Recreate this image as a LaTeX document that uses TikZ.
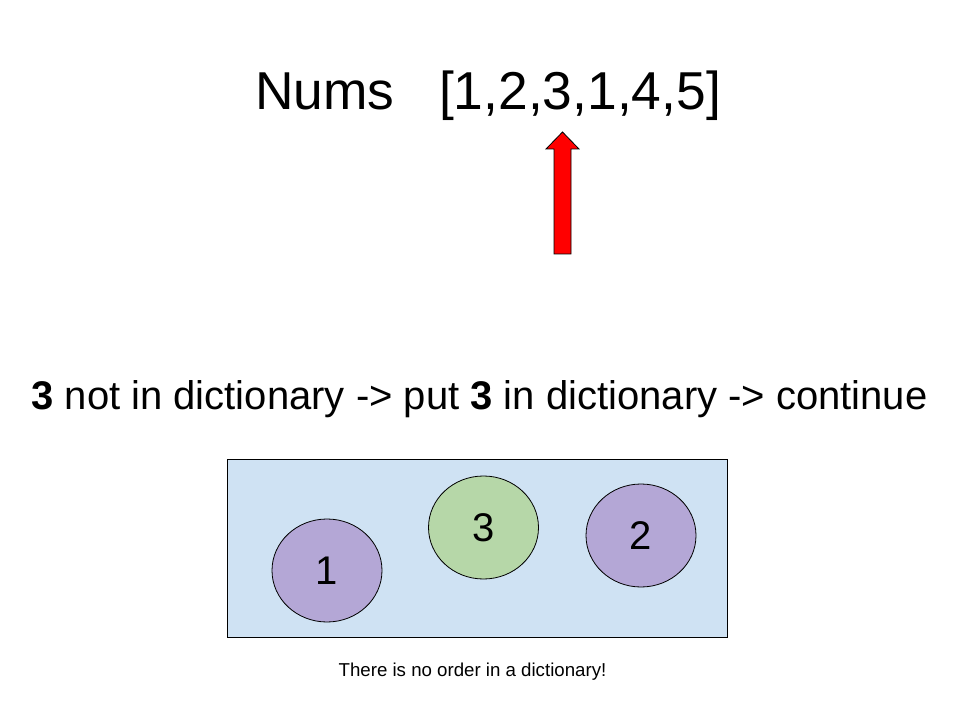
\documentclass[tikz,border=0pt]{standalone}
\usepackage{fontspec}
\setmainfont{Liberation Sans}
\usetikzlibrary{shapes.geometric}
\definecolor{dictblue}{HTML}{CFE2F3}
\definecolor{purp}{HTML}{B4A7D6}
\definecolor{grn}{HTML}{B6D7A8}
\tikzset{
  bubble/.style={ellipse, draw=black, line width=0.6pt, inner sep=0pt,
    minimum width=82.5pt, minimum height=77.25pt, font=\fontsize{30}{36}\selectfont},
  big/.style={font=\fontsize{40}{48}\selectfont, inner sep=0pt},
}
\begin{document}
\begin{tikzpicture}[x=0.75pt,y=-0.75pt]
\useasboundingbox[fill=white] (0,0) rectangle (960,720);
% title
\node[big, anchor=base] (nums) at (325,110) {Nums};
\node[big, anchor=base] (list) at (580,110) {[1,2,3,1,4,5]};
% arrow
\draw[fill=red, draw=black, line width=0.6pt, line join=miter]
  (554,254) -- (554,149) -- (546,149) -- (562.5,132) -- (579,149) -- (571,149) -- (571,254) -- cycle;
% statement
\node[font=\fontsize{30}{36}\selectfont, inner sep=0pt, anchor=base] (stmt) at (479.5,409)
  {\textbf{3} not in dictionary -> put \textbf{3} in dictionary -> continue};
% dictionary box
\node[draw=black, fill=dictblue, line width=0.6pt, inner sep=0pt,
  minimum width=375pt, minimum height=133.5pt] (dict) at (477,548) {};
\node[bubble, fill=purp] (one) at (327,570.5) {1};
\node[bubble, fill=grn] (three) at (483.5,527.5) {3};
\node[bubble, fill=purp] (two) at (641,535.5) {2};
% note
\node[font=\fontsize{14}{17}\selectfont, inner sep=0pt] (note) at (472.5,672) {There is no order in a dictionary!};
\end{tikzpicture}
\end{document}
